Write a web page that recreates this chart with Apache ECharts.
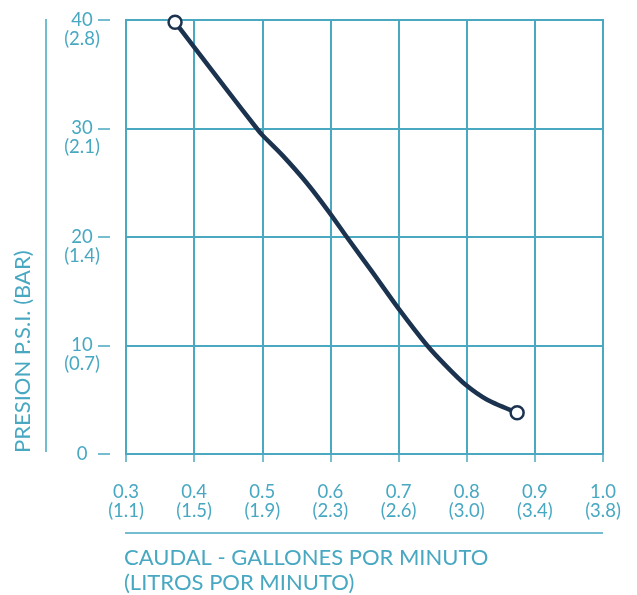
<!DOCTYPE html>
<html>
<head>
<meta charset="utf-8">
<script src="https://cdn.jsdelivr.net/npm/echarts@6/dist/echarts.min.js"></script>
<style>
html,body{margin:0;padding:0;background:#fff;}
#c{width:637px;height:595px;}
</style>
</head>
<body>
<div id="c"></div>
<script>
// Data
const flowGPM = [0.372, 0.40, 0.45, 0.492, 0.50, 0.53, 0.565, 0.598, 0.624, 0.66, 0.70, 0.742, 0.77, 0.798, 0.83, 0.874];
const pressurePSI = [39.8, 37.5, 33.4, 30.0, 29.4, 27.5, 25.0, 22.3, 20.0, 16.9, 13.4, 10.0, 8.1, 6.4, 5.0, 3.8];
const xTickLabels = ['0.3', '0.4', '0.5', '0.6', '0.7', '0.8', '0.9', '1.0'];
const xLitrosLabels = ['(1.1)', '(1.5)', '(1.9)', '(2.3)', '(2.6)', '(3.0)', '(3.4)', '(3.8)'];
const yTickLabels = ['0', '10', '20', '30', '40'];
const yBarLabels = ['', '(0.7)', '(1.4)', '(2.1)', '(2.8)'];
const yAxisTitle = 'PRESION P.S.I. (BAR)';
const xAxisTitle = 'CAUDAL - GALLONES POR MINUTO\n(LITROS POR MINUTO)';

const TEAL = '#4aa8c0';
const TEXT = '#48a8c2';
const LIGHT = '#74bccf';
const NAVY = '#1c3350';
const FONT = 'Lato';

const lineData = flowGPM.map((x, i) => [x, pressurePSI[i]]);
const endPoints = [lineData[0], lineData[lineData.length - 1]];

const chart = echarts.init(document.getElementById('c'));
chart.setOption({
  animation: false,
  grid: {
    left: 126, right: 34, top: 20, bottom: 141,
    outerBoundsMode: 'none', containLabel: false,
    show: true, borderColor: TEAL, borderWidth: 2, backgroundColor: 'transparent'
  },
  xAxis: {
    type: 'value', min: 0.3, max: 1.0, interval: 0.1,
    offset: 18,
    axisLine: { show: false },
    axisTick: { show: true, length: 8, lineStyle: { color: TEAL, width: 1.5 } },
    splitLine: { show: true, lineStyle: { color: TEAL, width: 2 } },
    axisLabel: {
      margin: 11,
      color: TEXT, fontFamily: FONT, fontSize: 18.5, lineHeight: 19,
      showMinLabel: true, showMaxLabel: true,
      formatter: function (v) {
        const i = Math.round((v - 0.3) / 0.1);
        return xTickLabels[i] + '\n' + xLitrosLabels[i];
      }
    }
  },
  yAxis: {
    type: 'value', min: 0, max: 40, interval: 10,
    offset: 16,
    axisLine: { show: false },
    axisTick: { show: true, length: 12, lineStyle: { color: TEAL, width: 1.5 } },
    splitLine: { show: true, lineStyle: { color: TEAL, width: 2 } },
    axisLabel: {
      margin: 28, align: 'center',
      color: TEXT, fontFamily: FONT, fontSize: 18.5, lineHeight: 19,
      showMinLabel: true, showMaxLabel: true,
      formatter: function (v) {
        const i = Math.round(v / 10);
        return ' \n' + yTickLabels[i] + '\n' + (yBarLabels[i] || ' ');
      }
    }
  },
  series: [
    {
      type: 'line', data: lineData, smooth: 0.25, showSymbol: false,
      lineStyle: { color: NAVY, width: 4.5, cap: 'round', join: 'round' },
      z: 3
    },
    {
      type: 'scatter', data: endPoints, symbol: 'circle', symbolSize: 13,
      itemStyle: { color: '#ffffff', opacity: 1, borderColor: NAVY, borderWidth: 2.5 },
      z: 4
    }
  ],
  graphic: [
    { type: 'line', shape: { x1: 46, y1: 19, x2: 46, y2: 452 }, style: { stroke: LIGHT, lineWidth: 2 } },
    { type: 'line', shape: { x1: 125, y1: 533, x2: 603, y2: 533 }, style: { stroke: LIGHT, lineWidth: 2 } },
    {
      type: 'text', x: 23, y: 453, rotation: Math.PI / 2,
      style: { text: yAxisTitle, fill: TEXT, font: '22px ' + FONT, textAlign: 'left', textVerticalAlign: 'middle' }
    },
    {
      type: 'text', x: 124, y: 545,
      style: { text: xAxisTitle, fill: TEXT, font: '22px ' + FONT, lineHeight: 25, textAlign: 'left', textVerticalAlign: 'top' }
    }
  ]
});
</script>
</body>
</html>
